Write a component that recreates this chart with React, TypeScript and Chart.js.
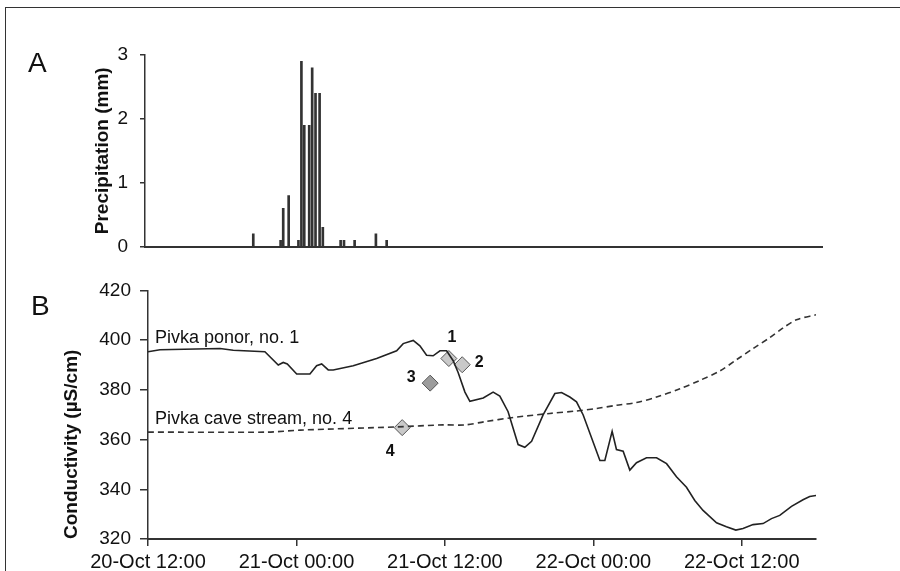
import React, { useEffect, useRef } from "react";
import { Chart, registerables } from "chart.js";

Chart.register(...registerables);

const FONT = '"Liberation Sans", Arial, Helvetica, sans-serif';

// time in hours since 20-Oct 12:00
const tickHours = [0, 12, 24, 36, 48];
const tickLabels = ["20-Oct 12:00", "21-Oct 00:00", "21-Oct 12:00", "22-Oct 00:00", "22-Oct 12:00"];

// Panel A – precipitation
const rainHours = [8.51, 10.72, 10.93, 11.37, 12.16, 12.4, 12.63, 13.03, 13.27, 13.54, 13.87, 14.13, 15.57, 15.84, 16.7, 18.42, 19.29];
const rainMm = [0.2, 0.1, 0.6, 0.8, 0.1, 2.9, 1.9, 1.9, 2.8, 2.4, 2.4, 0.3, 0.1, 0.1, 0.1, 0.2, 0.1];

// Panel B – conductivity, Pivka ponor (no. 1)
const ponorHours = [0, 0.97, 5.82, 6.89, 9.45, 10.53, 10.93, 11.26, 12.02, 13.09, 13.63, 14.04, 14.57, 14.97, 16.59, 18.48, 20.1, 20.63, 21.44, 21.98, 22.52, 23.05, 23.6, 24.14, 24.67, 25.07, 25.62, 26.02, 27.1, 27.9, 28.44, 29.11, 29.92, 30.46, 31.01, 31.94, 32.89, 33.43, 34.1, 34.64, 35.18, 36.53, 36.93, 37.52, 37.87, 38.41, 38.95, 39.49, 40.3, 41.11, 41.92, 42.72, 43.53, 44.2, 44.87, 45.96, 46.76, 47.52, 48.1, 48.91, 49.72, 50.4, 51.07, 52.02, 52.95, 53.49, 54];
const ponorCond = [395.3, 396.1, 396.6, 395.9, 395.3, 390.0, 391.0, 390.4, 386.4, 386.4, 389.7, 390.4, 388.0, 388.0, 389.7, 392.6, 395.7, 398.6, 399.9, 397.7, 393.9, 393.7, 395.7, 395.7, 391.7, 387.0, 379.1, 375.4, 376.7, 379.1, 377.5, 371.2, 358.0, 356.9, 359.3, 369.9, 378.5, 378.9, 377.1, 375.2, 369.9, 351.6, 351.6, 363.3, 356.0, 355.3, 347.7, 350.7, 352.7, 352.7, 350.3, 345.0, 340.8, 335.5, 331.5, 326.5, 324.9, 323.6, 324.2, 325.8, 326.2, 328.2, 329.5, 333.1, 335.8, 337.1, 337.5];

// Panel B – conductivity, Pivka cave stream (no. 4)
const caveHours = [0, 9.6, 12.32, 20.12, 23.85, 25.62, 27.23, 29.39, 32.48, 34.64, 36.26, 37.87, 39.49, 41.11, 43.0, 44.61, 46.26, 47.57, 48.91, 50.26, 51.34, 52.42, 54];
const caveCond = [363.0, 363.0, 363.8, 365.1, 365.9, 365.9, 367.2, 368.8, 370.5, 371.5, 372.5, 373.8, 374.9, 377.1, 380.4, 383.8, 387.7, 392.1, 396.6, 401.0, 404.9, 408.2, 410.2];

// Samples
const sampleNames = ["1", "2", "3", "4"];
const sampleHours = [24.32, 25.4, 22.81, 20.55];
const sampleCond = [392.6, 390.1, 382.7, 364.8];

const seriesNames = ["Pivka ponor, no. 1", "Pivka cave stream, no. 4"];

// styles / label placement (not data)
const sampleFill = ["#c9c9c9", "#c9c9c9", "#9c9c9c", "#c9c9c9"];
const sampleLabelOffset = [[3, -21], [17, -2], [-19, -6], [-12, 24]];
const seriesLabelAnchor = [[0.57, 398.7], [0.57, 366.3]];

const AXIS = "#333";
const TEXT = "#111";

function letterPlugin(letter: string, x: number, y: number) {
  return {
    id: "letter" + letter,
    afterDraw(chart: any) {
      const ctx = chart.ctx;
      ctx.save();
      ctx.fillStyle = TEXT;
      ctx.font = `28px ${FONT}`;
      ctx.textAlign = "left";
      ctx.textBaseline = "alphabetic";
      ctx.fillText(letter, x, y);
      ctx.restore();
    },
  };
}

const annotationPlugin = {
  id: "annot",
  afterDraw(chart: any) {
    const ctx = chart.ctx;
    const xs = chart.scales.x;
    const ys = chart.scales.y;
    ctx.save();
    ctx.fillStyle = TEXT;
    ctx.textBaseline = "alphabetic";
    ctx.textAlign = "left";
    ctx.font = `18px ${FONT}`;
    seriesNames.forEach((n, i) => {
      ctx.fillText(n, xs.getPixelForValue(seriesLabelAnchor[i][0]), ys.getPixelForValue(seriesLabelAnchor[i][1]));
    });
    ctx.font = `bold 16px ${FONT}`;
    ctx.textAlign = "center";
    ctx.textBaseline = "middle";
    sampleNames.forEach((n, i) => {
      const px = xs.getPixelForValue(sampleHours[i]) + sampleLabelOffset[i][0];
      const py = ys.getPixelForValue(sampleCond[i]) + sampleLabelOffset[i][1];
      ctx.fillText(n, px, py);
    });
    ctx.restore();
  },
};

export default function App() {
  const refA = useRef<HTMLCanvasElement>(null);
  const refB = useRef<HTMLCanvasElement>(null);

  useEffect(() => {
    const chartA = new Chart(refA.current as HTMLCanvasElement, {
      type: "bar",
      data: {
        datasets: [
          {
            data: rainHours.map((x, i) => ({ x, y: rainMm[i] })),
            backgroundColor: "#333",
            borderWidth: 0,
            barThickness: 2,
          } as any,
        ],
      },
      options: {
        responsive: false,
        animation: false,
        layout: { padding: { left: 91, right: 78, top: 55, bottom: 15 } },
        plugins: { legend: { display: false }, tooltip: { enabled: false } },
        scales: {
          x: {
            type: "linear",
            offset: false,
            min: -0.24,
            max: 54.47,
            ticks: { display: false },
            grid: { display: false, offset: false },
            border: { display: true, color: AXIS, width: 2 },
            afterFit: (a: any) => {
              a.height = 0;
            },
          },
          y: {
            min: 0,
            max: 3,
            ticks: { stepSize: 1, color: TEXT, font: { family: FONT, size: 19 }, padding: 12 },
            grid: { drawOnChartArea: false, tickLength: 5, color: AXIS, lineWidth: 1.5 },
            border: { color: AXIS, width: 1.5 },
            title: {
              display: true,
              text: "Precipitation (mm)",
              color: TEXT,
              font: { family: FONT, size: 19, weight: "bold" },
              padding: 0,
            },
            afterFit: (a: any) => {
              a.width = 54;
            },
          },
        },
      } as any,
      plugins: [letterPlugin("A", 28, 72)],
    });

    const chartB = new Chart(refB.current as HTMLCanvasElement, {
      type: "scatter",
      data: {
        datasets: [
          {
            data: ponorHours.map((x, i) => ({ x, y: ponorCond[i] })),
            showLine: true,
            borderColor: "#222",
            borderWidth: 1.6,
            pointRadius: 0,
            tension: 0,
          },
          {
            data: caveHours.map((x, i) => ({ x, y: caveCond[i] })),
            showLine: true,
            borderColor: "#333",
            borderWidth: 1.6,
            borderDash: [6, 4],
            pointRadius: 0,
            tension: 0.3,
          },
          {
            data: sampleHours.map((x, i) => ({ x, y: sampleCond[i] })),
            showLine: false,
            pointStyle: "rectRot",
            pointRadius: 8,
            pointBackgroundColor: sampleFill,
            pointBorderColor: "#555",
            pointBorderWidth: 1,
          },
        ],
      } as any,
      options: {
        responsive: false,
        animation: false,
        layout: { padding: { left: 60, right: 84, top: 17, bottom: 0 } },
        plugins: { legend: { display: false }, tooltip: { enabled: false } },
        scales: {
          x: {
            type: "linear",
            min: 0,
            max: 54,
            afterBuildTicks: (a: any) => {
              a.ticks = tickHours.map((v) => ({ value: v }));
            },
            ticks: {
              autoSkip: false,
              maxRotation: 0,
              color: TEXT,
              font: { family: FONT, size: 20 },
              padding: 4,
              callback: (v: any) => {
                const i = tickHours.indexOf(Number(v));
                return i >= 0 ? tickLabels[i] : "";
              },
            },
            grid: { drawOnChartArea: false, tickLength: 7, color: AXIS, lineWidth: 1.5 },
            border: { color: AXIS, width: 2 },
            afterFit: (a: any) => {
              a.height = 32;
            },
          },
          y: {
            min: 320,
            max: 420,
            ticks: { stepSize: 20, color: TEXT, font: { family: FONT, size: 19 }, padding: 9 },
            grid: { drawOnChartArea: false, tickLength: 8, color: AXIS, lineWidth: 1.5 },
            border: { color: AXIS, width: 1.5 },
            title: {
              display: true,
              text: "Conductivity (µS/cm)",
              align: "start",
              color: TEXT,
              font: { family: FONT, size: 19, weight: "bold" },
              padding: 0,
            },
            afterFit: (a: any) => {
              a.width = 88;
            },
          },
        },
      } as any,
      plugins: [letterPlugin("B", 31, 45), annotationPlugin],
    });

    return () => {
      chartA.destroy();
      chartB.destroy();
    };
  }, []);

  return (
    <div
      style={{
        position: "fixed",
        left: 0,
        top: 0,
        width: 900,
        height: 571,
        overflow: "hidden",
        background: "#fff",
      }}
    >
      <div
        style={{
          position: "absolute",
          left: 5,
          top: 7,
          width: 1000,
          height: 700,
          borderLeft: "1.5px solid #333",
          borderTop: "1.5px solid #333",
        }}
      />
      <canvas ref={refA} width={900} height={270} style={{ position: "absolute", left: 0, top: 0 }} />
      <canvas ref={refB} width={900} height={301} style={{ position: "absolute", left: 0, top: 270 }} />
    </div>
  );
}
